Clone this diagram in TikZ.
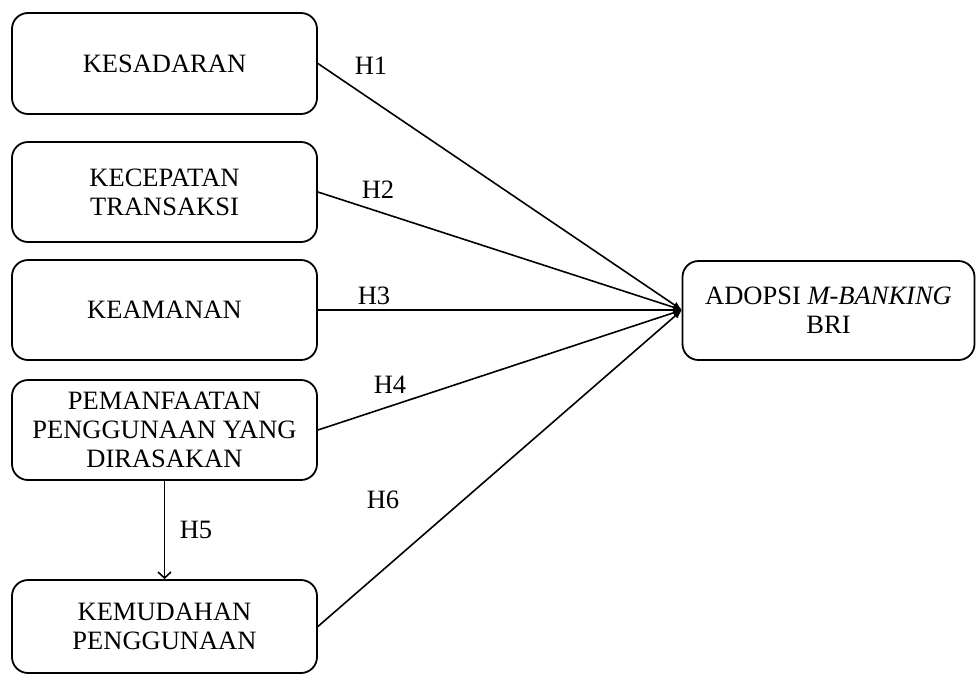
\documentclass[tikz,border=0pt]{standalone}
\usepackage{fontspec}
\setmainfont{Liberation Serif}
\usetikzlibrary{arrows.meta}
\begin{document}
\begin{tikzpicture}[x=1pt,y=-1pt,
  box/.style={draw,line width=1.8pt,rounded corners=16pt,align=center,inner sep=0pt,
    font=\fontsize{26.5}{29}\selectfont},
  lbl/.style={font=\fontsize{26.5}{29}\selectfont,inner sep=0pt},
  link/.style={line width=1.6pt,-{Latex[length=9pt,width=7pt]}},
  down/.style={line width=1.6pt,-{Straight Barb[length=6pt,width=13pt]}}]
\useasboundingbox (0,0) rectangle (976,675);
\node[box,minimum width=305pt,minimum height=101pt] (kes) at (164.5,63.5) {KESADARAN};
\node[box,minimum width=305pt,minimum height=100pt] (kec) at (164.5,192) {KECEPATAN\\TRANSAKSI};
\node[box,minimum width=305pt,minimum height=100pt] (kea) at (164.5,310) {KEAMANAN};
\node[box,minimum width=305pt,minimum height=100pt] (pem) at (164.5,430) {PEMANFAATAN\\PENGGUNAAN YANG\\DIRASAKAN};
\node[box,minimum width=305pt,minimum height=93pt] (kem) at (164.5,626.5) {KEMUDAHAN\\PENGGUNAAN};
\node[box,minimum width=292pt,minimum height=99pt] (ado) at (828.5,310.5) {ADOPSI \textit{M-BANKING}\\BRI};
\coordinate (tip) at (682,310);
\draw[link] (kes.east) -- (tip);
\draw[link] (kec.east) -- (tip);
\draw[link] (kea.east) -- (tip);
\draw[link] (pem.east) -- (tip);
\draw[link] (kem.east) -- (tip);
\draw[down] (pem.south) -- (kem.north);
\node[lbl] (h1) at (371,66) {H1};
\node[lbl] (h2) at (378,190) {H2};
\node[lbl] (h3) at (374,296) {H3};
\node[lbl] (h4) at (390,385) {H4};
\node[lbl] (h5) at (196,530) {H5};
\node[lbl] (h6) at (383,500) {H6};
\end{tikzpicture}
\end{document}
